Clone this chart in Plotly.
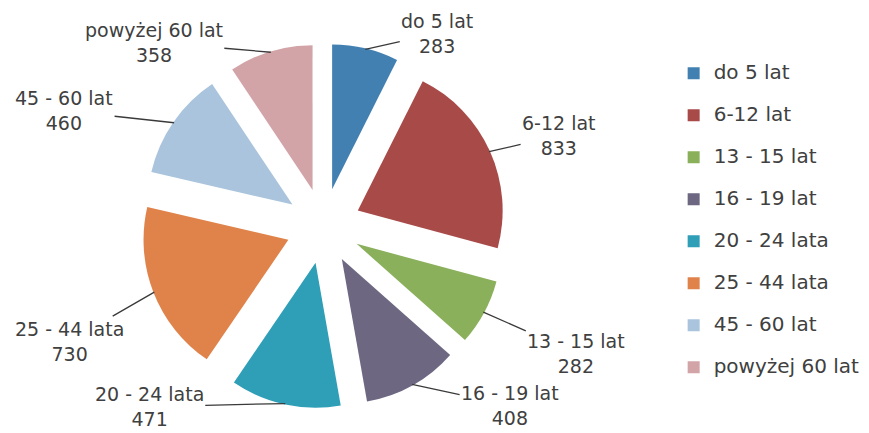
import math
import plotly.graph_objects as go

categories = ["do 5 lat", "6-12 lat", "13 - 15 lat", "16 - 19 lat",
              "20 - 24 lata", "25 - 44 lata", "45 - 60 lat", "powyżej 60 lat"]
values = [283, 833, 282, 408, 471, 730, 460, 358]
colors = ["#4280B2", "#A84A48", "#8AB05C", "#6D6782",
          "#2F9EB7", "#DF834A", "#A9C4DC", "#D3A4A7"]

# label placement (pixel offsets of each label from its slice edge) - styling only
label_offsets = [(72, -16), (70, -16), (93, 41), (98, 21),
                 (-136, 3), (-85, 49), (-110, -12), (-117, -10)]

W, H = 869, 433
dom_x = [0.153, 0.573]
dom_y = [0.074, 0.919]
pull = 0.26
font_family = "DejaVu Sans"
text_color = "#404040"

fig = go.Figure(go.Pie(
    labels=[f"<span style='font-size:20px'>{c}</span><br> " for c in categories],
    values=values,
    marker=dict(colors=colors, line=dict(width=0)),
    sort=False,
    direction="clockwise",
    rotation=0,
    pull=[pull] * len(values),
    textinfo="none",
    domain=dict(x=dom_x, y=dom_y),
    hovertext=categories,
    hoverinfo="text+value",
))

# slice-edge anchor points for the labels, derived from the values
cx = (dom_x[0] + dom_x[1]) / 2
cy = (dom_y[0] + dom_y[1]) / 2
r_out = min((dom_x[1] - dom_x[0]) * W, (dom_y[1] - dom_y[0]) * H) / 2 * 0.995
total = sum(values)
cum = 0
annotations = []
for cat, val, (ax, ay) in zip(categories, values, label_offsets):
    mid = (cum + val / 2) / total * 2 * math.pi
    cum += val
    px = cx + r_out * math.sin(mid) / W
    py = cy + r_out * math.cos(mid) / H
    annotations.append(dict(
        x=px, y=py, xref="paper", yref="paper",
        text=f"{cat}<br>{val}",
        showarrow=True, arrowhead=0, arrowwidth=1.3, arrowcolor="#3a3a3a",
        ax=ax, ay=ay, axref="pixel", ayref="pixel",
        standoff=0, startstandoff=0,
        align="center",
        font=dict(family=font_family, size=19, color=text_color),
    ))

fig.update_layout(
    width=W, height=H,
    margin=dict(l=0, r=0, t=0, b=0),
    paper_bgcolor="white",
    plot_bgcolor="white",
    showlegend=True,
    annotations=annotations,
    legend=dict(x=0.766, y=0.887, xanchor="left", yanchor="top",
                valign="top",
                font=dict(family=font_family, size=15, color=text_color),
                itemwidth=30),
)

fig.write_html("out.html")
